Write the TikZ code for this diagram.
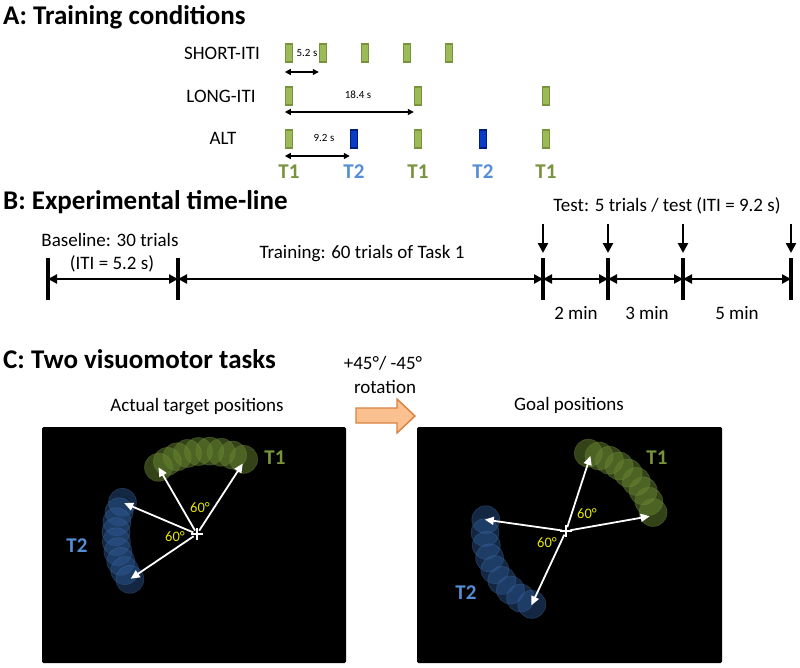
\documentclass[tikz,border=0pt]{standalone}
\usepackage{fontspec}
\setmainfont{Carlito}
\usepackage{tikz}
\usetikzlibrary{arrows.meta, positioning, calc}

\definecolor{tonegreen}{HTML}{77933C}
\definecolor{barfill}{HTML}{9BBB59}
\definecolor{ttwoblue}{HTML}{558ED5}
\definecolor{altblue}{HTML}{0A3CC8}
\definecolor{altedge}{HTML}{001E78}
\definecolor{rotfill}{HTML}{FAC090}
\definecolor{rotedge}{HTML}{D9823F}
\definecolor{anglab}{HTML}{E6E600}
\definecolor{tonecirc}{HTML}{66842F}
\definecolor{ttwocirc}{HTML}{2C5894}

\tikzset{
  ttl/.style={font=\bfseries\fontsize{27}{30}\selectfont, anchor=base west, inner sep=0pt},
  lab/.style={font=\fontsize{19}{22}\selectfont, inner sep=0pt, text height=12pt, text depth=0pt},
  small/.style={font=\fontsize{11}{13}\selectfont, inner sep=0pt, text height=7pt, text depth=0pt},
  tlab/.style={font=\bfseries\fontsize{21}{24}\selectfont, inner sep=0pt, text height=13pt, text depth=0pt},
  anglelab/.style={font=\fontsize{14.5}{16}\selectfont, text=anglab, inner sep=0pt, text height=9pt, text depth=0pt},
  gbar/.style={draw=tonegreen, fill=barfill, line width=1.4pt, minimum width=7pt, minimum height=18pt, inner sep=0pt},
  bbar/.style={gbar, draw=altedge, fill=altblue},
  dimarr/.style={{Triangle[length=6pt,width=6pt]}-{Triangle[length=6pt,width=6pt]}, line width=1.3pt},
  tick/.style={line width=3.5pt},
  span/.style={{Triangle[length=9pt,width=9pt]}-{Triangle[length=9pt,width=9pt]}, line width=2.4pt},
  drop/.style={-{Triangle[length=10pt,width=10pt]}, line width=2.6pt},
  panel/.style={fill=black, rounded corners=1.5pt},
  ray/.style={-{Triangle[length=9pt,width=8pt]}, white, line width=1.8pt, shorten <=4pt},
  tonedot/.style={fill=tonecirc, fill opacity=0.5, draw=tonecirc!85!white, draw opacity=0.3, line width=0.8pt},
  ttwodot/.style={fill=ttwocirc, fill opacity=0.45, draw=ttwocirc!85!white, draw opacity=0.3, line width=0.8pt},
  rotarr/.style={draw=rotedge, fill=rotfill, line width=1.4pt, line join=miter},
}

\begin{document}
\begin{tikzpicture}[x=1pt, y=-1pt]
\useasboundingbox[fill=white] (0,0) rectangle (800,667);

% A: training conditions
\node[ttl] (titleA) at (3,24) {A: Training conditions};
\node[lab] (shortlab) at (222,53) {SHORT-ITI};
\node[lab] (longlab) at (221,96) {LONG-ITI};
\node[lab] (altlab) at (223,138) {ALT};

\foreach \x [count=\i] in {289,323,365,407,449} {
    \node[gbar] (s\i) at (\x,53) {};
}
\foreach \x [count=\i] in {289,418,546} {
    \node[gbar] (l\i) at (\x,96) {};
}
\node[gbar] (a1) at (289,139) {};
\node[bbar] (a2) at (354,139) {};
\node[gbar] (a3) at (418,139) {};
\node[bbar] (a4) at (483,139) {};
\node[gbar] (a5) at (546,139) {};

\node[small] (shortiti) at (307,53) {5.2 s};
\node[small] (longiti) at (358,95) {18.4 s};
\node[small] (altiti) at (324,138) {9.2 s};

\draw[dimarr] (s1.west |- 0,72) -- (s2.west |- 0,72);
\draw[dimarr] (l1.west |- 0,112) -- (l2.west |- 0,112);
\draw[dimarr] (a1.west |- 0,156) -- (a2.west |- 0,156);

\foreach \i/\t/\c in {1/T1/tonegreen,2/T2/ttwoblue,3/T1/tonegreen,4/T2/ttwoblue,5/T1/tonegreen} {
    \node[tlab, text=\c] (task\i) at (a\i |- 0,172) {\t};
}

% B: experimental time-line
\node[ttl] (titleB) at (3,209) {B: Experimental time-line};
\coordinate (b0) at (48,279);
\coordinate (b1) at (178,279);
\foreach \x [count=\i] in {543,608,683,791} {
    \coordinate (e\i) at (\x,279);
    \coordinate (d\i) at (\x,224);
}
\foreach \p in {b0,b1,e1,e2,e3,e4} {
    \draw[tick] ($(\p)+(0,-21)$) -- ($(\p)+(0,21)$);
}
\draw[span] (b0) -- (b1);
\draw[span] (b1) -- (e1);
\draw[span] (e1) -- (e2);
\draw[span] (e2) -- (e3);
\draw[span] (e3) -- (e4);
\foreach \i in {1,...,4} {
    \draw[drop] (d\i) -- ($(e\i)+(0,-26)$);
}

\node[lab] (base) at (110,240) {Baseline: 30 trials};
\node[lab] (baseiti) at (112,263) {(ITI = 5.2 s)};
\node[lab] (train) at (362,252) {Training: 60 trials of Task 1};
\node[lab] (test) at (667,205) {Test: 5 trials / test (ITI = 9.2 s)};
\node[lab] (gap1) at (576,313) {2 min};
\node[lab] (gap2) at (647,313) {3 min};
\node[lab] (gap3) at (737,313) {5 min};

% C: two visuomotor tasks
\node[ttl] (titleC) at (3,368) {C: Two visuomotor tasks};
\node[lab] (actual) at (197,405) {Actual target positions};
\node[lab] (goal) at (569,404) {Goal positions};
\node[lab] (rotdeg) at (383,363) {+45°/ -45°};
\node[lab] (rotword) at (385,387) {rotation};
\draw[rotarr] (356,408) -- (397,408) -- (397,399) -- (415,416) -- (397,433) -- (397,423) -- (356,423) -- cycle;

\fill[panel] (42,427) rectangle (346,663);
\fill[panel] (417,427) rectangle (722,663);

% left panel: actual targets
\coordinate (cL) at (197,534);
\foreach \k in {0,...,8} {
    \pgfmathsetmacro{\a}{58+\k*62/8}
    \pgfmathsetmacro{\r}{88-\k*11/8}
    \path[tonedot] ($(cL)+(\a:\r pt)$) circle (14);
    \pgfmathsetmacro{\b}{157+\k*57/8}
    \path[ttwodot] ($(cL)+(\b:81pt)$) circle (14);
}
\coordinate (lt1) at ($(cL)+(57:84pt)$);
\coordinate (lt2) at ($(cL)+(120:77pt)$);
\coordinate (lt3) at ($(cL)+(157:79pt)$);
\coordinate (lt4) at ($(cL)+(214:80pt)$);
\foreach \t in {lt1,lt2,lt3,lt4} {
    \draw[ray] (cL) -- (\t);
}
\draw[white, line width=1.6pt] ($(cL)+(-6,0)$) -- ($(cL)+(6,0)$) ($(cL)+(0,-6)$) -- ($(cL)+(0,6)$);
\node[tlab, text=tonegreen] (lT1) at (275,458) {T1};
\node[tlab, text=ttwoblue] (lT2) at (77,546) {T2};
\node[anglelab] (lang1) at (200,508) {60°};
\node[anglelab] (lang2) at (175,537) {60°};

% right panel: goal positions
\coordinate (cR) at (566,531);
\foreach \k in {0,...,8} {
    \pgfmathsetmacro{\a}{12+\k*62/8}
    \pgfmathsetmacro{\r}{89-\k*8/8}
    \path[tonedot] ($(cR)+(\a:\r pt)$) circle (14);
    \pgfmathsetmacro{\b}{172+\k*73/8}
    \path[ttwodot] ($(cR)+(\b:81pt)$) circle (14);
}
\coordinate (rt1) at ($(cR)+(72:79pt)$);
\coordinate (rt2) at ($(cR)+(10:85pt)$);
\coordinate (rt3) at ($(cR)+(172:82pt)$);
\coordinate (rt4) at ($(cR)+(245:82pt)$);
\foreach \t in {rt1,rt2,rt3,rt4} {
    \draw[ray] (cR) -- (\t);
}
\draw[white, line width=1.6pt] ($(cR)+(-6,0)$) -- ($(cR)+(6,0)$) ($(cR)+(0,-6)$) -- ($(cR)+(0,6)$);
\node[tlab, text=tonegreen] (rT1) at (657,458) {T1};
\node[tlab, text=ttwoblue] (rT2) at (466,593) {T2};
\node[anglelab] (rang1) at (587,514) {60°};
\node[anglelab] (rang2) at (547,543) {60°};

\end{tikzpicture}
\end{document}
